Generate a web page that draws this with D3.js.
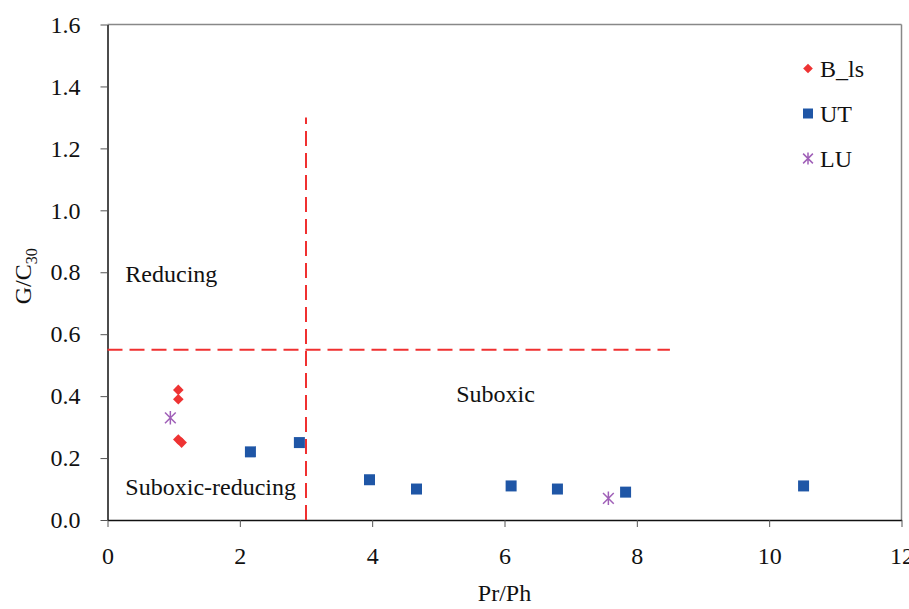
<!DOCTYPE html>
<html>
<head>
<meta charset="utf-8">
<script src="https://cdn.jsdelivr.net/npm/d3@7"></script>
<style>
  body { margin: 0; background: #fff; }
  svg { font-family: "Liberation Serif", "Times New Roman", serif; }
</style>
</head>
<body>
<svg id="chart" width="909" height="609"></svg>
<script>
// Series values
const bls = [[1.07, 0.42], [1.07, 0.39], [1.07, 0.26], [1.12, 0.25]]
const ut = [[2.16, 0.22], [2.90, 0.25], [3.96, 0.13], [4.67, 0.10], [6.10, 0.11],
            [6.80, 0.10], [7.83, 0.09], [10.52, 0.11]]
const lu = [[0.95, 0.33], [7.57, 0.07]]
const xTicks = [0, 2, 4, 6, 8, 10, 12]
const yTicks = [0, 0.2, 0.4, 0.6, 0.8, 1.0, 1.2, 1.4, 1.6]
const regionLabels = [
  { text: "Reducing", x: 0.27, y: 0.77 },
  { text: "Suboxic", x: 5.27, y: 0.38 },
  { text: "Suboxic-reducing", x: 0.27, y: 0.08 }
]

const svg = d3.select("#chart")
const margin = { top: 24.5, right: 7.5, bottom: 89, left: 107.5 }
const width = 909 - margin.left - margin.right
const height = 609 - margin.top - margin.bottom

const x = d3.scaleLinear().domain([0, 12]).range([0, width])
const y = d3.scaleLinear().domain([0, 1.6]).range([height, 0])

const g = svg.append("g")
  .attr("transform", `translate(${margin.left},${margin.top})`)

// frame top / right
g.append("line").attr("x1", 0).attr("x2", width).attr("y1", 0).attr("y2", 0)
  .attr("stroke", "#888").attr("stroke-width", 1.5)
g.append("line").attr("x1", width).attr("x2", width).attr("y1", 0).attr("y2", height)
  .attr("stroke", "#888").attr("stroke-width", 1.5)

const xAxis = g.append("g")
  .attr("transform", `translate(0,${height})`)
  .call(d3.axisBottom(x).tickValues(xTicks).tickSize(7).tickSizeOuter(0).tickPadding(20))
const yAxis = g.append("g")
  .call(d3.axisLeft(y).tickValues(yTicks).tickFormat(d3.format(".1f")).tickSize(7).tickSizeOuter(0).tickPadding(20))

for (const ax of [xAxis, yAxis]) {
  ax.select(".domain").attr("stroke", "#111").attr("stroke-width", 1.5)
  ax.selectAll(".tick line").attr("stroke", "#555")
  ax.selectAll("text").attr("font-size", 24).attr("font-family", "Liberation Serif").attr("fill", "#111")
}

// dashed boundaries
g.append("line")
  .attr("x1", x(3)).attr("x2", x(3)).attr("y1", y(0)).attr("y2", y(1.3))
  .attr("stroke", "#f03030").attr("stroke-width", 2).attr("stroke-dasharray", "15,7")
g.append("line")
  .attr("x1", x(0)).attr("x2", x(8.5)).attr("y1", y(0.55)).attr("y2", y(0.55))
  .attr("stroke", "#f03030").attr("stroke-width", 2).attr("stroke-dasharray", "15,7")

// region labels
g.selectAll(".region")
  .data(regionLabels)
  .enter()
  .append("text")
  .attr("x", d => x(d.x))
  .attr("y", d => y(d.y))
  .attr("font-size", 24)
  .attr("fill", "#111")
  .text(d => d.text)

// vertical bar + X, like the spreadsheet star marker
const starType = {
  draw(ctx, size) {
    const r = Math.sqrt(size) / 2
    const d = r * 0.8
    ctx.moveTo(0, -r); ctx.lineTo(0, r)
    ctx.moveTo(-d, -d); ctx.lineTo(d, d)
    ctx.moveTo(-d, d); ctx.lineTo(d, -d)
  }
}

const diamond = d3.symbol().type(d3.symbolDiamond2).size(72)
const square = d3.symbol().type(d3.symbolSquare).size(121)
const star = d3.symbol().type(starType).size(180)

g.selectAll(".bls")
  .data(bls)
  .enter()
  .append("path")
  .attr("d", diamond)
  .attr("transform", d => `translate(${x(d[0])},${y(d[1])})`)
  .attr("fill", "#ee3333")

g.selectAll(".ut")
  .data(ut)
  .enter()
  .append("path")
  .attr("d", square)
  .attr("transform", d => `translate(${x(d[0])},${y(d[1])})`)
  .attr("fill", "#1f56a6")

g.selectAll(".lu")
  .data(lu)
  .enter()
  .append("path")
  .attr("d", star)
  .attr("transform", d => `translate(${x(d[0])},${y(d[1])})`)
  .attr("fill", "none")
  .attr("stroke", "#a060b8")
  .attr("stroke-width", 1.5)

// legend
const legend = [
  { name: "B_ls", sym: d3.symbol().type(d3.symbolDiamond2).size(60), fill: "#ee3333", stroke: "none" },
  { name: "UT", sym: d3.symbol().type(d3.symbolSquare).size(100), fill: "#1f56a6", stroke: "none" },
  { name: "LU", sym: d3.symbol().type(starType).size(150), fill: "none", stroke: "#a060b8" }
]
const lg = svg.append("g").attr("transform", "translate(808,68.5)")
const rows = lg.selectAll("g")
  .data(legend)
  .enter()
  .append("g")
  .attr("transform", (d, i) => `translate(0,${i * 45})`)
rows.append("path")
  .attr("d", d => d.sym())
  .attr("fill", d => d.fill)
  .attr("stroke", d => d.stroke)
  .attr("stroke-width", 1.5)
rows.append("text")
  .attr("x", 12)
  .attr("y", 8.5)
  .attr("font-size", 24)
  .attr("fill", "#111")
  .text(d => d.name)

// axis titles
svg.append("text")
  .attr("x", margin.left + x(6))
  .attr("y", 601)
  .attr("text-anchor", "middle")
  .attr("font-size", 24)
  .attr("fill", "#111")
  .text("Pr/Ph")

const yt = svg.append("text")
  .attr("transform", `translate(31,${margin.top + y(0.8) + 4}) rotate(-90)`)
  .attr("text-anchor", "middle")
  .attr("font-size", 24)
  .attr("fill", "#111")
yt.append("tspan").text("G/C")
yt.append("tspan").attr("font-size", 16).attr("dy", 6).text("30")
</script>
</body>
</html>
